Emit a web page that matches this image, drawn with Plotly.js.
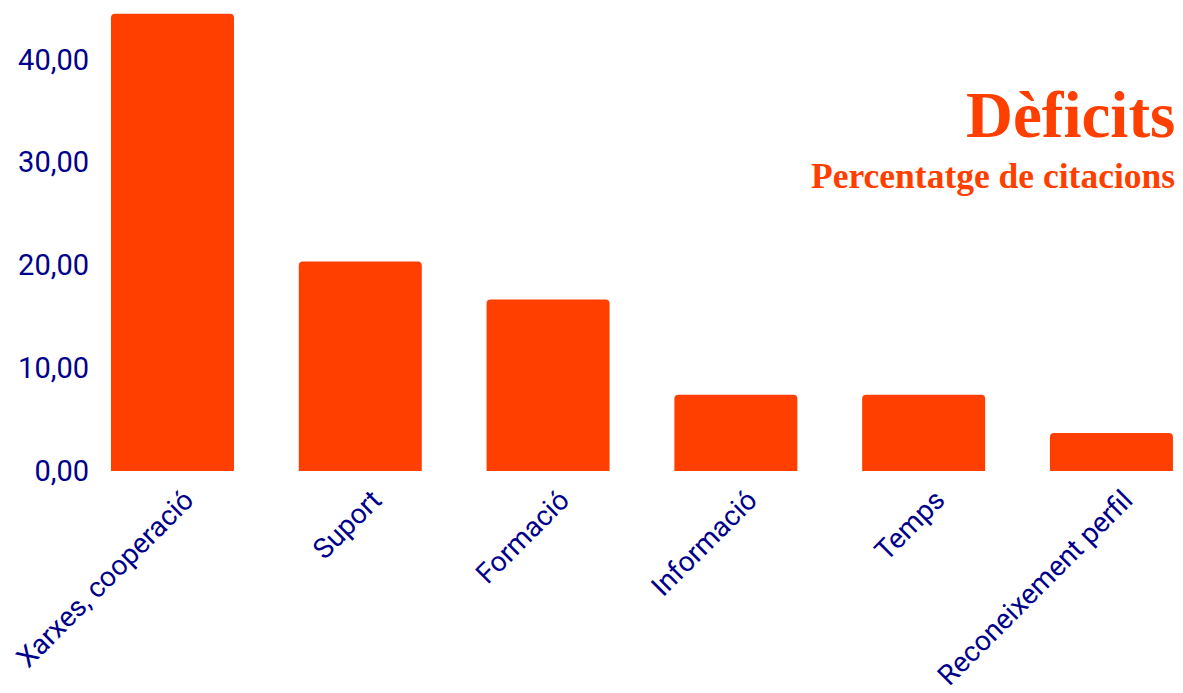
<!DOCTYPE html>
<html>
<head>
<meta charset="utf-8">
<script src="https://cdn.plot.ly/plotly-3.0.1.min.js"></script>
<style>html,body{margin:0;padding:0;background:#fff;}#chart{width:1183px;height:693px;}</style>
</head>
<body>
<div id="chart"></div>
<script>
const categories = ["Xarxes, cooperació", "Suport", "Formació", "Informació", "Temps", "Reconeixement perfil"];
const values = [44.44, 20.37, 16.67, 7.41, 7.41, 3.70];
const yTickVals = [0, 10, 20, 30, 40];
const yTickText = ["0,00", "10,00", "20,00", "30,00", "40,00"];
const titleText = "Dèficits";
const subtitleText = "Percentatge de citacions";

const barColor = "#FF3F00";
const textColor = "#00008B";

const trace = {
  type: "bar",
  x: categories,
  y: values,
  marker: { color: barColor, cornerradius: 4 },
  hoverinfo: "x+y"
};

const layout = {
  width: 1183,
  height: 693,
  margin: { l: 100, r: 0, t: 10, b: 222 },
  paper_bgcolor: "#ffffff",
  plot_bgcolor: "#ffffff",
  bargap: 0.345,
  showlegend: false,
  font: { family: "Roboto, sans-serif", color: textColor },
  xaxis: {
    type: "category",
    range: [-0.386, 5.381],
    tickangle: -45,
    tickfont: { family: "Roboto, sans-serif", size: 28, color: textColor },
    showgrid: false,
    zeroline: false,
    showline: false,
    ticks: "",
    ticklabelstandoff: 6,
    ticklabelshift: 13
  },
  yaxis: {
    range: [0, 44.8],
    tickvals: yTickVals,
    ticktext: yTickText,
    tickfont: { family: "Roboto, sans-serif", size: 29, color: textColor },
    showgrid: false,
    zeroline: false,
    showline: false,
    ticks: "",
    ticklabelstandoff: 10
  },
  annotations: [
    {
      text: "<b>" + titleText + "</b>",
      xref: "paper", yref: "paper",
      x: 1, y: 0.772,
      xshift: -6,
      xanchor: "right", yanchor: "middle",
      showarrow: false,
      font: { family: "Liberation Serif, serif", size: 65, color: barColor }
    },
    {
      text: "<b>" + subtitleText + "</b>",
      xref: "paper", yref: "paper",
      x: 1, y: 0.64,
      xshift: -6,
      xanchor: "right", yanchor: "middle",
      showarrow: false,
      font: { family: "Liberation Serif, serif", size: 35.5, color: barColor }
    }
  ]
};

Plotly.newPlot("chart", [trace], layout, { displayModeBar: false, staticPlot: true });
</script>
</body>
</html>
